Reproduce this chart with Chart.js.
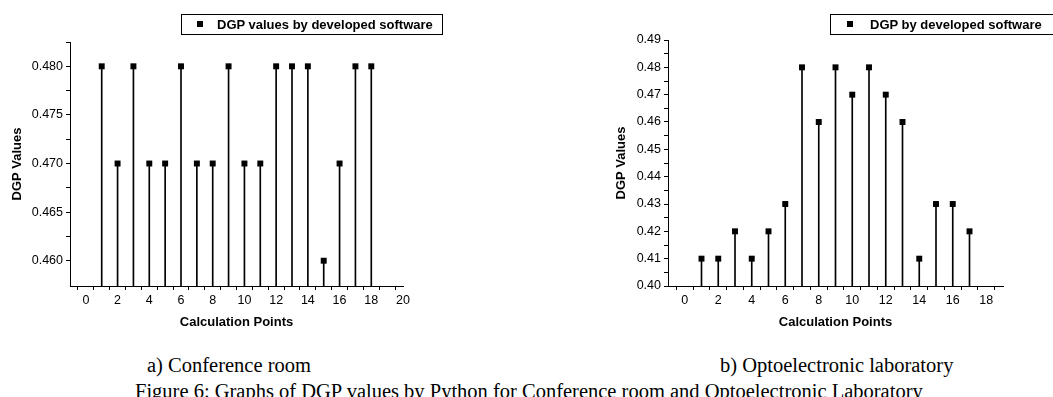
<!DOCTYPE html>
<html>
<head>
<meta charset="utf-8">
<script src="https://cdn.jsdelivr.net/npm/chart.js@4/dist/chart.umd.min.js"></script>
<style>
  body { margin: 0; background: #fff; width: 1053px; height: 397px; overflow: hidden; position: relative; }
  .box { position: absolute; top: 0; width: 420px; height: 340px; }
  .legend { position: absolute; top: 14px; height: 21px; border: 1px solid #000; box-sizing: border-box;
            font: bold 13px "Liberation Sans", Arial, sans-serif; line-height: 19px; white-space: nowrap; color: #000; }
  .legend i { position: absolute; top: 6px; left: 15px; width: 6px; height: 6px; background: #000; }
  .cap { position: absolute; font: 20.5px "Liberation Serif", "Times New Roman", serif; white-space: nowrap; color: #000; }
</style>
</head>
<body>
<div class="box" style="left:0"><canvas id="chart-a" width="420" height="340"></canvas></div>
<div class="box" style="left:600px"><canvas id="chart-b" width="420" height="340"></canvas></div>

<div class="legend" style="left:181px;width:262px;padding-left:35px"><i></i>DGP values by developed software</div>
<div class="legend" style="left:830px;width:223px;padding-left:39px;border-right:none"><i style="left:16px"></i>DGP by developed software</div>

<div class="cap" style="left:147px;top:354px">a) Conference room</div>
<div class="cap" style="left:720px;top:354px">b) Optoelectronic laboratory</div>
<div class="cap" style="left:135px;top:380px">Figure 6: Graphs of DGP values by Python for Conference room and Optoelectronic Laboratory</div>

<script>
// a) Conference room
const confPoints = [1, 2, 3, 4, 5, 6, 7, 8, 9, 10, 11, 12, 13, 14, 15, 16, 17, 18];
const confDGP    = [0.48, 0.47, 0.48, 0.47, 0.47, 0.48, 0.47, 0.47, 0.48, 0.47, 0.47, 0.48, 0.48, 0.48, 0.46, 0.47, 0.48, 0.48];
const confXTicks = [0, 2, 4, 6, 8, 10, 12, 14, 16, 18, 20];
const confXMinor = [1, 3, 5, 7, 9, 11, 13, 15, 17, 19];
const confYTicks = [0.460, 0.465, 0.470, 0.475, 0.480];
const confYMinor = [0.4625, 0.4675, 0.4725, 0.4775, 0.4825];

// b) Optoelectronic laboratory
const labPoints = [1, 2, 3, 4, 5, 6, 7, 8, 9, 10, 11, 12, 13, 14, 15, 16, 17];
const labDGP    = [0.41, 0.41, 0.42, 0.41, 0.42, 0.43, 0.48, 0.46, 0.48, 0.47, 0.48, 0.47, 0.46, 0.41, 0.43, 0.43, 0.42];
const labXTicks = [0, 2, 4, 6, 8, 10, 12, 14, 16, 18];
const labXMinor = [1, 3, 5, 7, 9, 11, 13, 15, 17];
const labYTicks = [0.40, 0.41, 0.42, 0.43, 0.44, 0.45, 0.46, 0.47, 0.48, 0.49];
const labYMinor = [0.405, 0.415, 0.425, 0.435, 0.445, 0.455, 0.465, 0.475, 0.485];

const FONT = '"Liberation Sans", Arial, sans-serif';

function axis(opts) {
  const { min, max, major, minor, digits, title, vertical, width, height, titlePad } = opts;
  return {
    type: 'linear', min, max, offset: false,
    border: { display: true, color: '#000', width: 1 },
    grid: { drawOnChartArea: false, drawTicks: true, tickLength: 4, tickColor: '#000' },
    ticks: {
      color: '#000', font: { family: FONT, size: 12.5 }, padding: 3,
      autoSkip: false, maxRotation: 0,
      callback: v => major.includes(v) ? v.toFixed(digits) : ''
    },
    afterBuildTicks: s => { s.ticks = major.concat(minor).sort((a, b) => a - b).map(v => ({ value: v })); },
    afterFit: s => { if (vertical) s.width = width; else s.height = height; },
    title: { display: true, text: title, color: '#000', font: { family: FONT, size: 13, weight: 'bold' }, padding: titlePad }
  };
}

function stemChart(id, xs, ys, x, y, pad) {
  const pts = xs.map((v, i) => ({ x: v, y: ys[i] }));
  return new Chart(document.getElementById(id), {
    type: 'bar',
    data: {
      datasets: [
        { type: 'scatter', data: pts, order: 0, pointStyle: 'rect', pointRadius: 4.2,
          backgroundColor: '#000', borderColor: '#000', borderWidth: 0 },
        { type: 'bar', data: pts, order: 1, barThickness: 1, backgroundColor: '#000', borderWidth: 0 }
      ]
    },
    options: {
      responsive: false, animation: false,
      layout: { padding: pad },
      plugins: { legend: { display: false }, tooltip: { enabled: false } },
      scales: { x, y }
    }
  });
}

stemChart('chart-a', confPoints, confDGP,
  axis({ min: -1, max: 20, major: confXTicks, minor: confXMinor, digits: 0, title: 'Calculation Points', height: 54, titlePad: { top: 0, bottom: 10 } }),
  axis({ min: 0.4574, max: 0.4825, major: confYTicks, minor: confYMinor, digits: 3, title: 'DGP Values', vertical: true, width: 70, titlePad: { top: 10, bottom: 0 } }),
  { top: 42, right: 17, left: 0, bottom: 0 });

stemChart('chart-b', labPoints, labDGP,
  axis({ min: -1, max: 19, major: labXTicks, minor: labXMinor, digits: 0, title: 'Calculation Points', height: 54, titlePad: { top: 0, bottom: 10 } }),
  axis({ min: 0.40, max: 0.49, major: labYTicks, minor: labYMinor, digits: 2, title: 'DGP Values', vertical: true, width: 68, titlePad: { top: 14, bottom: 0 } }),
  { top: 40, right: 17, left: 0, bottom: 0 });
</script>
</body>
</html>
